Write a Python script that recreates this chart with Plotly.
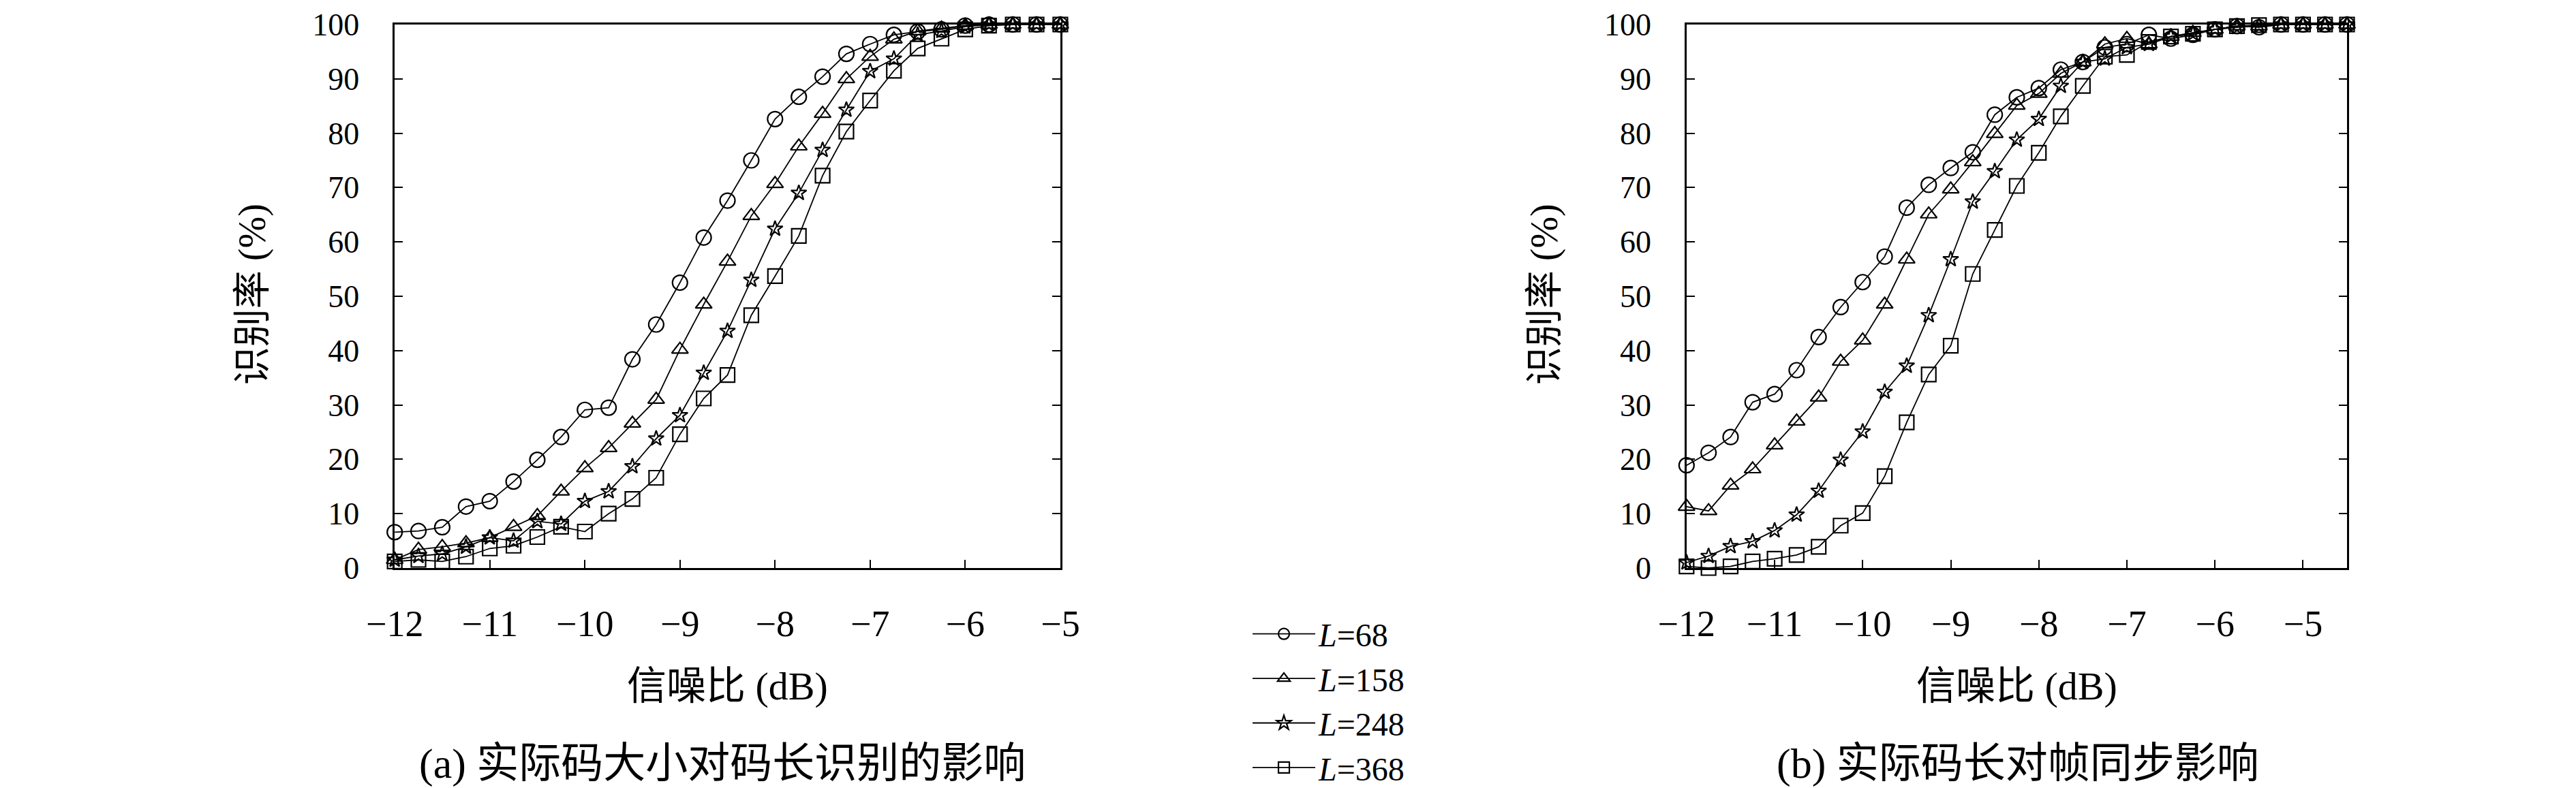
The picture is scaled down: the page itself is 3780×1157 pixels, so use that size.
import plotly.graph_objects as go

# signal-to-noise ratio (dB)
snr_a = [-12, -11.75, -11.5, -11.25, -11, -10.75, -10.5, -10.25, -10, -9.75,
         -9.5, -9.25, -9, -8.75, -8.5, -8.25, -8, -7.75, -7.5, -7.25,
         -7, -6.75, -6.5, -6.25, -6, -5.75, -5.5, -5.25, -5]
snr_b = [-12, -11.75, -11.5, -11.25, -11, -10.75, -10.5, -10.25, -10, -9.75,
         -9.5, -9.25, -9, -8.75, -8.5, -8.25, -8, -7.75, -7.5, -7.25,
         -7, -6.75, -6.5, -6.25, -6, -5.75, -5.5, -5.25, -5, -4.75, -4.5]

# (a) recognition rate (%)
a_L68 = [6.6, 6.8, 7.5, 11.3, 12.3, 15.9, 19.9, 24.1, 29.1, 29.5, 38.4, 44.8, 52.5, 60.8, 67.6,
         75.0, 82.6, 86.7, 90.4, 94.6, 96.4, 98.1, 98.7, 99.1, 99.8, 100, 100, 100, 100]
a_L158 = [1.5, 3.4, 3.9, 4.6, 5.6, 7.6, 9.6, 14.1, 18.4, 22.1, 26.6, 31.0, 40.2, 48.5, 56.4,
          64.8, 70.7, 77.6, 83.6, 90.0, 94.1, 97.3, 98.8, 99.3, 99.8, 100, 100, 100, 100]
a_L248 = [1.5, 2.2, 2.6, 3.9, 5.6, 5.0, 8.6, 8.1, 12.3, 14.1, 18.7, 23.8, 28.1, 35.9, 43.6,
          53.0, 62.4, 69.0, 76.9, 84.3, 91.4, 93.7, 98.1, 98.8, 99.6, 100, 100, 100, 100]
a_L368 = [1.2, 1.5, 1.2, 2.1, 3.6, 4.1, 5.7, 7.6, 6.7, 10.0, 12.7, 16.6, 24.6, 31.2, 35.5,
          46.5, 53.7, 61.1, 72.2, 80.3, 86.0, 91.5, 95.6, 97.4, 99.1, 99.8, 100, 100, 100]

# (b) recognition rate (%)
b_L68 = [18.9, 21.2, 24.1, 30.5, 32.0, 36.4, 42.5, 48.0, 52.6, 57.3, 66.3, 70.5, 73.6, 76.5, 83.4, 86.6,
         88.3, 91.7, 93.1, 95.8, 96.4, 98.1, 97.4, 98.1, 99.1, 99.7, 99.5, 100, 100, 100, 100]
b_L158 = [11.3, 10.5, 15.2, 18.2, 22.6, 27.0, 31.4, 38.0, 41.9, 48.5, 56.8, 65.1, 69.7, 74.7, 79.9, 85.1,
          87.3, 91.0, 93.1, 96.4, 97.4, 96.4, 97.8, 98.5, 99.1, 99.7, 99.7, 100, 100, 100, 100]
b_L248 = [1.0, 2.2, 4.0, 4.9, 6.9, 9.8, 14.2, 19.9, 25.1, 32.4, 37.2, 46.5, 56.8, 67.4, 73.0, 78.8,
          82.6, 88.7, 93.1, 93.7, 95.8, 96.4, 97.8, 98.3, 99.1, 99.5, 99.7, 100, 100, 100, 100]
b_L368 = [0.3, 0.0, 0.3, 1.2, 1.7, 2.4, 3.9, 7.8, 10.1, 16.9, 26.8, 35.6, 40.9, 54.1, 62.2, 70.3,
          76.4, 83.1, 88.7, 94.1, 94.4, 96.8, 97.8, 98.3, 99.1, 99.7, 99.9, 100, 100, 100, 100]

names = ["<i>L</i>=68", "<i>L</i>=158", "<i>L</i>=248", "<i>L</i>=368"]
symbols = ["circle-open", "triangle-up-open", "star-open", "square-open"]
sizes = [22, 21, 17, 21]

x_ticks = [-12, -11, -10, -9, -8, -7, -6, -5]
y_ticks = [0, 10, 20, 30, 40, 50, 60, 70, 80, 90, 100]

FONT = "'Liberation Serif', 'Noto Sans CJK SC', serif"

fig = go.Figure()

for i, ys in enumerate([a_L68, a_L158, a_L248, a_L368]):
    fig.add_trace(go.Scatter(
        x=snr_a, y=ys, name=names[i], mode="lines+markers",
        line=dict(color="black", width=1.8),
        marker=dict(symbol=symbols[i], size=sizes[i], color="black", line=dict(width=2.2)),
        cliponaxis=False, xaxis="x", yaxis="y"))

for i, ys in enumerate([b_L68, b_L158, b_L248, b_L368]):
    fig.add_trace(go.Scatter(
        x=snr_b, y=ys, name=names[i], mode="lines+markers", showlegend=False,
        line=dict(color="black", width=1.8),
        marker=dict(symbol=symbols[i], size=sizes[i], color="black", line=dict(width=2.2)),
        cliponaxis=False, xaxis="x2", yaxis="y2"))

def xax(domain, rng):
    return dict(domain=domain, range=rng, tickvals=x_ticks, ticks="inside", ticklen=12,
                tickwidth=2, tickcolor="black", showline=True, linecolor="black",
                linewidth=2.5, mirror=True, showgrid=False, zeroline=False,
                automargin=False, ticklabeloverflow="allow", ticklabelstandoff=32,
                tickfont=dict(family=FONT, size=54, color="black"))

def yax(anchor):
    return dict(domain=[0.2861, 0.9758], range=[0, 100], tickvals=y_ticks, anchor=anchor,
                ticks="inside", ticklen=12, tickwidth=2, tickcolor="black", showline=True,
                linecolor="black", linewidth=2.5, mirror="ticks", showgrid=False,
                zeroline=False, automargin=False, ticklabeloverflow="allow",
                ticklabelstandoff=40, tickfont=dict(family=FONT, size=46, color="black"))

fig.update_layout(
    width=3780, height=1157,
    margin=dict(l=0, r=0, t=0, b=0, autoexpand=False),
    paper_bgcolor="white", plot_bgcolor="white",
    xaxis=dict(xax([0.1511, 0.4095], [-12, -5]), anchor="y"),
    yaxis=yax("x"),
    xaxis2=dict(xax([0.6526, 0.9090], [-12, -4.5]), anchor="y2"),
    yaxis2=yax("x2"),
    legend=dict(x=0.4828, y=0.0, xanchor="left", yanchor="bottom",
                font=dict(family=FONT, size=48, color="black"),
                itemwidth=92, bgcolor="rgba(0,0,0,0)"),
    font=dict(family=FONT, color="black"),
)

def note(text, x, y, size, angle=0):
    fig.add_annotation(text=text, x=x, y=y, xref="paper", yref="paper",
                       xanchor="center", yanchor="middle",
                       showarrow=False, textangle=angle,
                       font=dict(family=FONT, size=size, color="black"))

note("识别率 (%)", 0.0958, 0.6335, 56, -90)
note("识别率 (%)", 0.5974, 0.6335, 56, -90)
note("信噪比 (dB)", 0.2804, 0.1357, 58)
note("信噪比 (dB)", 0.7807, 0.1357, 58)
note("(a) 实际码大小对码长识别的影响", 0.2783, 0.0372, 62)
note("(b) 实际码长对帧同步影响", 0.7812, 0.0372, 62)

fig.write_html("out.html")
